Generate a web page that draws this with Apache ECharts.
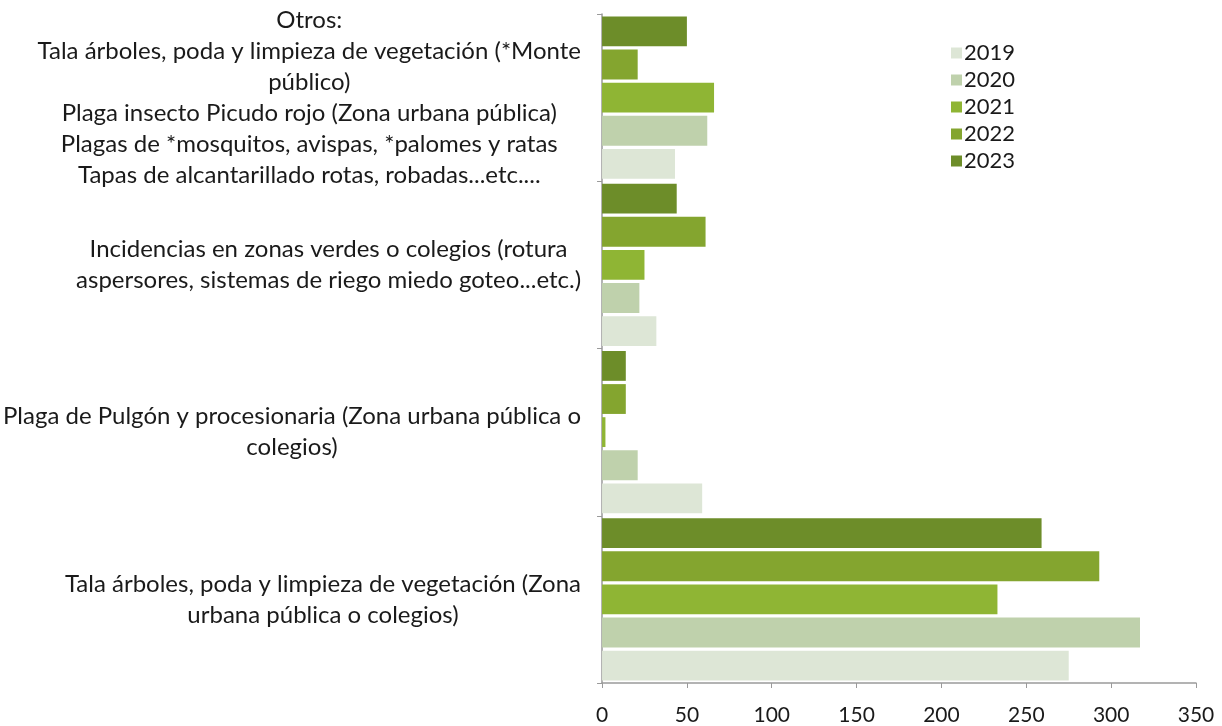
<!DOCTYPE html>
<html>
<head>
<meta charset="utf-8">
<script src="https://cdn.jsdelivr.net/npm/echarts@6/dist/echarts.min.js"></script>
<style>
html,body{margin:0;padding:0;background:#fff;}
#chart{width:1222px;height:726px;}
</style>
</head>
<body>
<div id="chart"></div>
<script>
// Categories, bottom to top
const categories = [
  "Tala árboles, poda y limpieza de vegetación (Zona\nurbana pública o colegios)",
  "Plaga de Pulgón y procesionaria (Zona urbana pública o\ncolegios)",
  "Incidencias en zonas verdes o colegios (rotura\naspersores, sistemas de riego miedo goteo...etc.)",
  "Otros:\nTala árboles, poda y limpieza de vegetación (*Monte\npúblico)\nPlaga insecto Picudo rojo (Zona urbana pública)\nPlagas de *mosquitos, avispas, *palomes y ratas\nTapas de alcantarillado rotas, robadas...etc...."
];
const years = ["2019", "2020", "2021", "2022", "2023"];
const v2019 = [275, 59, 32, 43];
const v2020 = [317, 21, 22, 62];
const v2021 = [233, 2, 25, 66];
const v2022 = [293, 14, 61, 21];
const v2023 = [259, 14, 44, 50];
const xTicks = [0, 50, 100, 150, 200, 250, 300, 350];

const seriesValues = [v2019, v2020, v2021, v2022, v2023];
const colors = ["#dde6d6", "#bfd1ac", "#8fb534", "#84a52f", "#6d8d29"];

const FONT = "Lato, 'Open Sans', sans-serif";
const chart = echarts.init(document.getElementById('chart'));

// draw 2023 first so that it sits at the top of each group (as in the reference)
const order = [4, 3, 2, 1, 0];
chart.setOption({
  animation: false,
  backgroundColor: '#ffffff',
  grid: { left: 597, right: 26, top: 14, bottom: 41, containLabel: false },
  legend: {
    orient: 'vertical',
    left: 946,
    top: 37,
    itemWidth: 11,
    itemHeight: 11,
    itemGap: 5,
    icon: 'rect',
    textStyle: { fontFamily: FONT, fontSize: 22, color: '#1a1a1a', padding: [0, 0, 0, -3] },
    data: years
  },
  xAxis: {
    type: 'value',
    min: xTicks[0],
    max: xTicks[xTicks.length - 1],
    interval: 50,
    splitLine: { show: false },
    axisLine: { show: true, lineStyle: { color: '#9a9a9a', width: 1.5 } },
    axisTick: { show: true, length: 5, lineStyle: { color: '#9a9a9a' } },
    axisLabel: { fontFamily: FONT, fontSize: 21, color: '#1a1a1a', margin: 22 }
  },
  yAxis: {
    type: 'category',
    data: categories,
    axisLine: { show: true, lineStyle: { color: '#9a9a9a', width: 1.5 } },
    axisTick: { show: true, length: 5, lineStyle: { color: '#9a9a9a' } },
    axisLabel: {
      margin: 21,
      align: 'right',
      formatter: function (v) {
        return v.split('\n').map(function (l) { return '{c|' + l + '}'; }).join('\n');
      },
      rich: {
        c: { align: 'center', fontFamily: FONT, fontSize: 24, color: '#1a1a1a', lineHeight: 31 }
      }
    }
  },
  series: order.map(function (i) {
    return {
      name: years[i],
      type: 'bar',
      data: seriesValues[i],
      barCategoryGap: '3%',
      barGap: '11%',
      itemStyle: { color: colors[i] }
    };
  })
});
</script>
</body>
</html>
